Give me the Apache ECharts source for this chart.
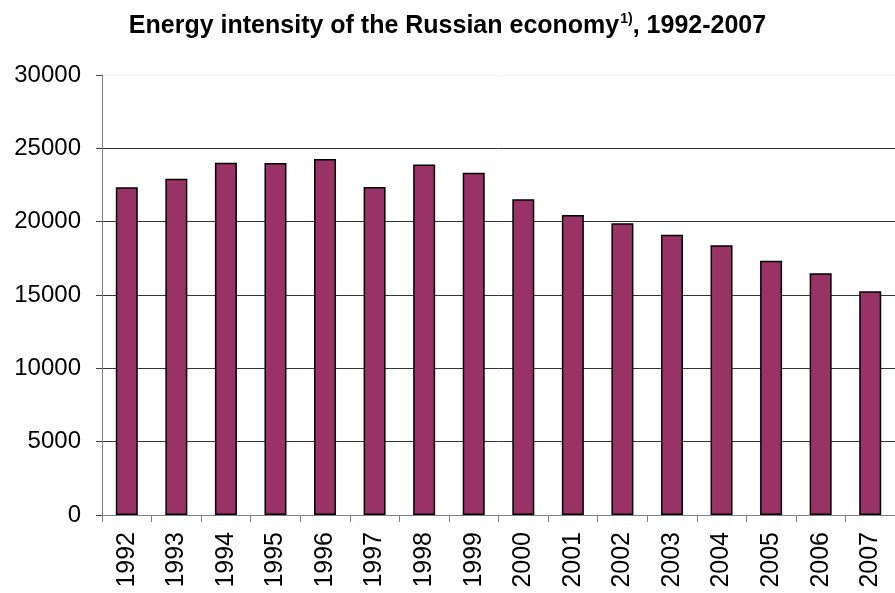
<!DOCTYPE html>
<html>
<head>
<meta charset="utf-8">
<script src="https://cdn.jsdelivr.net/npm/echarts@6/dist/echarts.min.js"></script>
<style>
  html, body { margin: 0; padding: 0; background: #fff; }
  #chart { width: 895px; height: 593px; }
</style>
</head>
<body>
<div id="chart"></div>
<script>
  // years and values
  var years = ['1992', '1993', '1994', '1995', '1996', '1997', '1998', '1999',
               '2000', '2001', '2002', '2003', '2004', '2005', '2006', '2007'];
  var intensity = [22350, 22920, 24010, 24000, 24280, 22370, 23890, 23330,
                   21530, 20460, 19900, 19100, 18400, 17330, 16490, 15260];
  var yTicks = [0, 5000, 10000, 15000, 20000, 25000, 30000];

  var chart = echarts.init(document.getElementById('chart'));
  var font = '"Liberation Sans", Arial, sans-serif';

  var option = {
    animation: false,
    title: {
      text: '{t|Energy intensity of the Russian economy}{s|1)}{t|, 1992-2007}',
      left: 'center',
      top: 7,
      textStyle: {
        rich: {
          t: { fontFamily: font, fontWeight: 'bold', fontSize: 25, color: '#000' },
          s: { fontFamily: font, fontSize: 14, color: '#000', verticalAlign: 'top', padding: [0, 0, 14, 1] }
        }
      }
    },
    grid: { left: 102, right: -7, top: 75, bottom: 78 },
    xAxis: {
      type: 'category',
      data: years,
      axisLine: { lineStyle: { color: '#808080', width: 1 } },
      axisTick: { show: true, length: 7, lineStyle: { color: '#808080' } },
      axisLabel: { rotate: 90, margin: 17, fontFamily: font, fontSize: 25, color: '#000' }
    },
    yAxis: {
      type: 'value',
      min: yTicks[0],
      max: yTicks[yTicks.length - 1],
      interval: 5000,
      axisLine: { show: true, lineStyle: { color: '#808080', width: 1 } },
      axisTick: { show: true, length: 6, lineStyle: { color: '#404040' } },
      axisLabel: {
        margin: 21, fontFamily: font, fontSize: 24, color: '#000',
        formatter: function (v) { return String(v); }
      },
      splitLine: {
        lineStyle: {
          color: ['#333', '#333', '#333', '#333', '#333', '#333', '#f2f2f2'],
          width: 1
        }
      }
    },
    series: [{
      type: 'bar',
      data: intensity,
      barWidth: 22,
      itemStyle: { color: '#993366', borderColor: '#000', borderWidth: 1.5 }
    }]
  };

  chart.setOption(option);
</script>
</body>
</html>
